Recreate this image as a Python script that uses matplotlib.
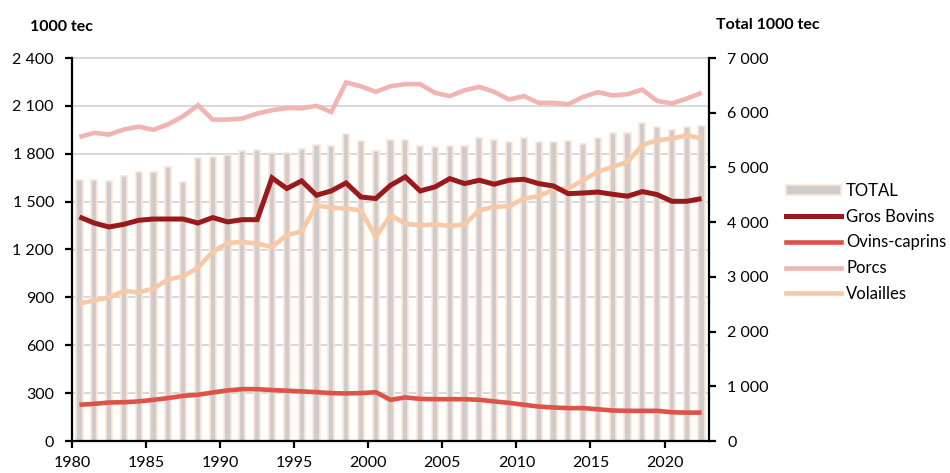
import matplotlib
matplotlib.use("Agg")
import matplotlib.pyplot as plt
from matplotlib.ticker import FuncFormatter, FixedLocator
from matplotlib.patches import Patch
from matplotlib.lines import Line2D

years = list(range(1980, 2023))

total = [4770, 4770, 4752, 4849, 4917, 4917, 5014, 4740, 5166, 5185,
         5233, 5306, 5319, 5258, 5258, 5331, 5410, 5392, 5605, 5489,
         5306, 5502, 5502, 5398, 5368, 5392, 5398, 5532, 5502, 5471,
         5532, 5465, 5471, 5483, 5428, 5532, 5623, 5623, 5806, 5745,
         5684, 5733, 5757]

gros_bovins = [1404, 1366, 1341, 1358, 1383, 1391, 1391, 1391, 1366, 1400,
               1373, 1387, 1387, 1649, 1582, 1630, 1540, 1567, 1617, 1529,
               1519, 1602, 1655, 1567, 1592, 1644, 1613, 1634, 1609, 1634,
               1640, 1613, 1598, 1550, 1554, 1560, 1546, 1534, 1563, 1544,
               1502, 1502, 1519]

ovins_caprins = [227, 233, 241, 243, 248, 258, 269, 283, 290, 304,
                 317, 325, 325, 319, 315, 311, 306, 300, 298, 300,
                 306, 258, 273, 264, 262, 262, 262, 258, 248, 239,
                 227, 216, 210, 206, 206, 199, 191, 189, 189, 189,
                 180, 178, 178]

porcs = [1905, 1931, 1920, 1952, 1970, 1950, 1985, 2035, 2104, 2014,
         2014, 2021, 2052, 2073, 2087, 2085, 2100, 2062, 2246, 2223,
         2188, 2223, 2236, 2236, 2182, 2161, 2198, 2219, 2188, 2140,
         2161, 2119, 2119, 2110, 2156, 2186, 2165, 2173, 2202, 2131,
         2115, 2146, 2182]

volailles = [861, 882, 898, 940, 932, 955, 1013, 1032, 1086, 1185,
             1241, 1247, 1237, 1216, 1289, 1314, 1477, 1462, 1456, 1446,
             1279, 1414, 1362, 1351, 1358, 1347, 1358, 1446, 1467, 1471,
             1519, 1534, 1576, 1582, 1634, 1687, 1718, 1749, 1854, 1885,
             1894, 1916, 1895]

left_ticks = [0, 300, 600, 900, 1200, 1500, 1800, 2100, 2400]
right_ticks = [0, 1000, 2000, 3000, 4000, 5000, 6000, 7000]
x_ticks = [1980, 1985, 1990, 1995, 2000, 2005, 2010, 2015, 2020]

FONT = "Lato"
plt.rcParams["font.family"] = [FONT, "DejaVu Sans"]
plt.rcParams["font.size"] = 11.5

c_bov = "#9a1a1c"
c_ovi = "#de5248"
c_por = "#f0b4b1"
c_vol = "#f8c9a6"
c_bar = "#d0cccc"
c_edge = "#fbe6d8"

fig = plt.figure(figsize=(9.5, 4.73), dpi=100)
ax = fig.add_axes([72/950, 1-441/473, (709-72)/950, (441-58)/473])
ax2 = ax.twinx()

def sp(v, pos=None):
    return f"{int(v):,}".replace(",", " ")

# bars on ax2 (behind), lines on ax (front)
ax.set_zorder(ax2.get_zorder() + 1)
ax.patch.set_visible(False)

xc = [y + 0.5 for y in years]

# gridlines (left scale) drawn on the back axis
for v in left_ticks[1:]:
    ax2.plot([0, 1], [v, v], transform=ax.get_yaxis_transform(),
             color="#d6d6d6", lw=1.3, zorder=0, clip_on=False)

ax2.bar(xc, total, width=0.42, color=c_bar, edgecolor=c_edge, linewidth=1.2, zorder=2)

lw = 3.3
ax.plot(xc, porcs, color=c_por, lw=lw, solid_joinstyle="miter", solid_capstyle="butt")
ax.plot(xc, volailles, color=c_vol, lw=lw, solid_joinstyle="miter", solid_capstyle="butt")
ax.plot(xc, ovins_caprins, color=c_ovi, lw=lw, solid_joinstyle="miter", solid_capstyle="butt")
ax.plot(xc, gros_bovins, color=c_bov, lw=3.6, solid_joinstyle="miter", solid_capstyle="butt")

ax.set_xlim(1980, 2023)
ax.set_ylim(0, 2400)
ax2.set_ylim(0, 7000)

ax.yaxis.set_major_locator(FixedLocator(left_ticks))
ax.yaxis.set_major_formatter(FuncFormatter(sp))
ax2.yaxis.set_major_locator(FixedLocator(right_ticks))
ax2.yaxis.set_major_formatter(FuncFormatter(sp))
ax.xaxis.set_major_locator(FixedLocator(x_ticks))
ax.xaxis.set_major_formatter(FuncFormatter(lambda v, p: f"{int(v)}"))

for a in (ax, ax2):
    a.spines["top"].set_visible(False)
    for s in a.spines.values():
        s.set_linewidth(1.6)
        s.set_color("black")
ax.spines["right"].set_visible(False)
ax2.spines["left"].set_visible(False)
ax2.spines["bottom"].set_visible(False)

ax.tick_params(axis="y", direction="out", length=5, width=1.6, pad=8, labelsize=11.5)
ax.tick_params(axis="x", direction="out", length=5, width=1.6, pad=6, labelsize=11.5)
ax2.tick_params(axis="y", direction="out", length=5, width=1.6, pad=8, labelsize=11.5)

fig.text(30/950, 1-27/473, "1000 tec", fontweight="bold", fontsize=11.5,
         va="center", ha="left")
fig.text(716/950, 1-25/473, "Total 1000 tec", fontweight="bold", fontsize=11.5,
         va="center", ha="left")

handles = [
    Patch(facecolor=c_bar, edgecolor=c_edge, linewidth=1.2),
    Line2D([], [], color=c_bov, lw=3.6),
    Line2D([], [], color=c_ovi, lw=3.3),
    Line2D([], [], color=c_por, lw=3.3),
    Line2D([], [], color=c_vol, lw=3.3),
]
labels = ["TOTAL", "Gros Bovins", "Ovins-caprins", "Porcs", "Volailles"]
fig.legend(handles, labels, loc="upper left",
           bbox_to_anchor=(786/950, 1-183/473), bbox_transform=fig.transFigure,
           frameon=False, borderpad=0, borderaxespad=0,
           handlelength=3.3, handleheight=0.5, handletextpad=0.3,
           labelspacing=0.58, fontsize=12)

fig.savefig("out.png", dpi=100)
